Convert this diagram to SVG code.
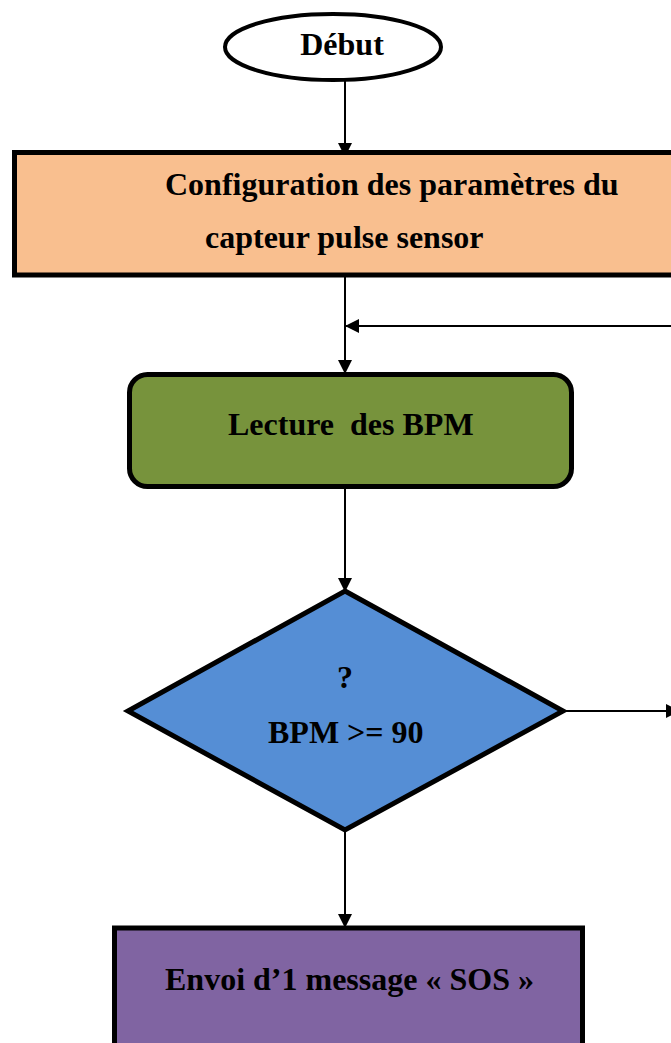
<svg xmlns="http://www.w3.org/2000/svg" width="671" height="1043" viewBox="0 0 671 1043">
  <style>
    .shape { stroke: #000; stroke-width: 5; }
    .lbl { font-family: "Liberation Serif", "Times New Roman", serif; font-weight: bold; font-size: 32px; fill: #000; }
    .wire { stroke: #000; stroke-width: 2; fill: none; }
  </style>
  <defs>
    <marker id="arrow" viewBox="0 0 14 14" refX="13" refY="7" markerWidth="14" markerHeight="14" markerUnits="userSpaceOnUse" orient="auto">
      <path d="M0,0 L14,7 L0,14 Z" fill="#000"/>
    </marker>
  </defs>

  <rect width="671" height="1043" fill="#fff"/>

  <!-- connectors -->
  <g id="connectors">
    <line class="wire" x1="345" y1="81" x2="345" y2="156" marker-end="url(#arrow)"/>
    <line class="wire" x1="345" y1="277" x2="345" y2="373" marker-end="url(#arrow)"/>
    <line class="wire" x1="671" y1="326" x2="346" y2="326" marker-end="url(#arrow)"/>
    <line class="wire" x1="345" y1="489" x2="345" y2="591" marker-end="url(#arrow)"/>
    <line class="wire" x1="565" y1="711" x2="679" y2="711" marker-end="url(#arrow)"/>
    <line class="wire" x1="345" y1="830" x2="345" y2="927" marker-end="url(#arrow)"/>
  </g>

  <g id="node-debut">
    <ellipse cx="333" cy="47" rx="108" ry="33" fill="#fff" stroke="#000" stroke-width="4"/>
    <text class="lbl" x="342" y="55" text-anchor="middle">Début</text>
  </g>

  <g id="node-config">
    <rect class="shape" x="14.5" y="152.5" width="680" height="122.5" fill="#F9BF8F"/>
    <text class="lbl" x="165" y="195">Configuration des paramètres du</text>
    <text class="lbl" x="205" y="248">capteur pulse sensor</text>
  </g>

  <g id="node-lecture">
    <rect class="shape" x="129.5" y="374.5" width="442" height="112" rx="18" ry="18" fill="#77933C"/>
    <text class="lbl" x="228" y="435" xml:space="preserve">Lecture  des BPM</text>
  </g>

  <g id="node-test">
    <polygon class="shape" points="345,591 563,711 345,830 128,711" fill="#558ED5"/>
    <text class="lbl" x="345" y="688" text-anchor="middle">?</text>
    <text class="lbl" x="268" y="743">BPM &gt;= 90</text>
  </g>

  <g id="node-sos">
    <rect class="shape" x="114.5" y="928" width="468" height="130" fill="#8064A2"/>
    <text class="lbl" x="165" y="990">Envoi d’1 message « SOS »</text>
  </g>
</svg>
